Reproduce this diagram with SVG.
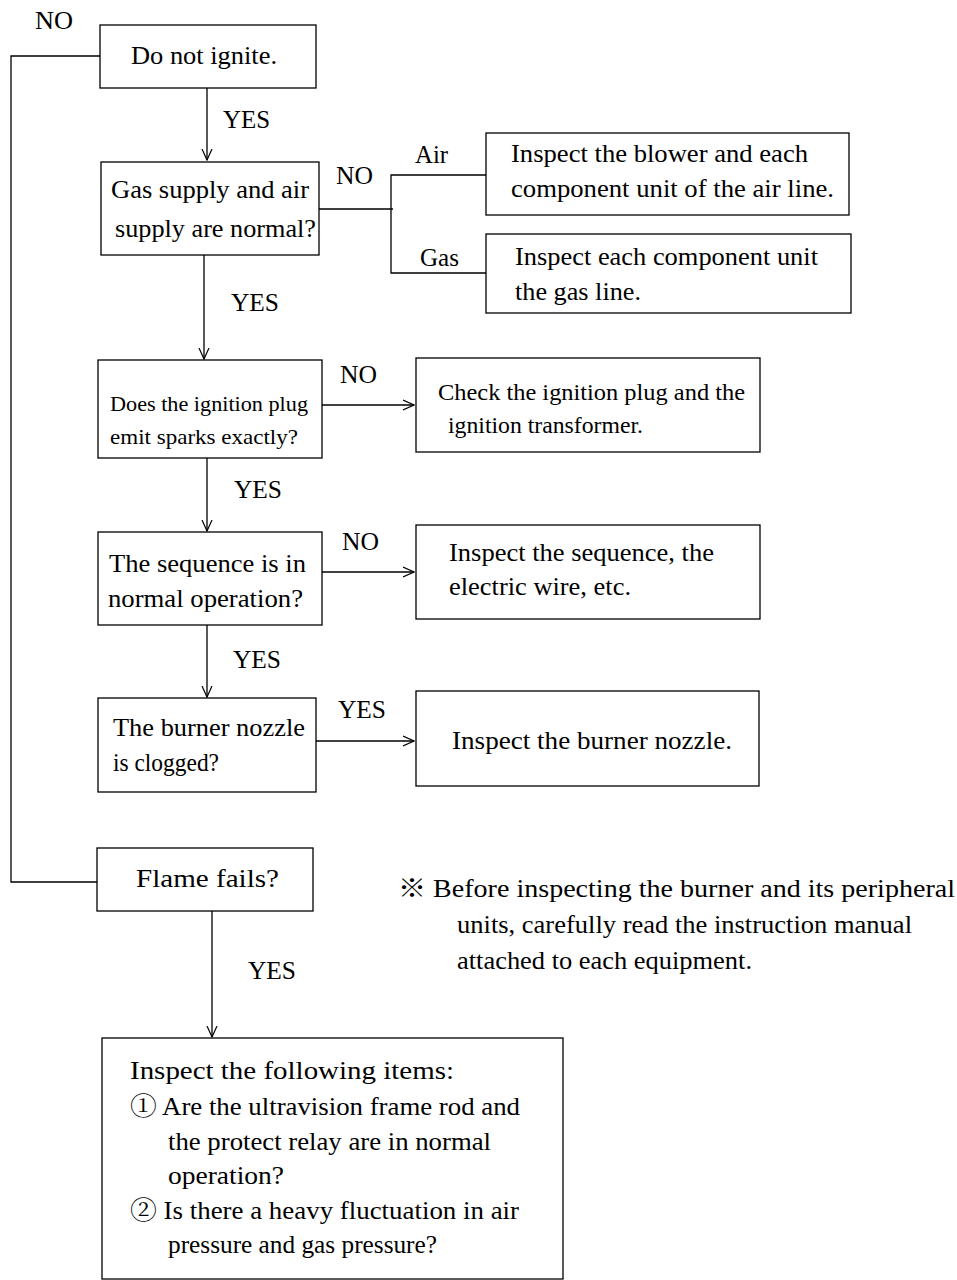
<svg xmlns="http://www.w3.org/2000/svg" width="957" height="1280" viewBox="0 0 957 1280">
<defs>
<style>
rect{fill:#fff;stroke:#000;stroke-width:1.3}
.c{fill:none;stroke:#000;stroke-width:1.3}
text{font-family:"Liberation Serif","Noto Serif CJK JP","Noto Sans CJK JP",serif;font-size:25px;fill:#000}
.s{font-size:22px}
.m{font-size:23px}
</style>
<marker id="ah" viewBox="0 0 12 12" refX="11" refY="6" markerWidth="12" markerHeight="12" markerUnits="userSpaceOnUse" orient="auto">
<path d="M0,1 L11,6 L0,11" fill="none" stroke="#000" stroke-width="1.2"/>
</marker>
</defs>
<g id="connectors">
<polyline class="c" points="100,56 11,56 11,882 97,882"/>
<line class="c" x1="207" y1="88" x2="207" y2="160" marker-end="url(#ah)"/>
<line class="c" x1="319" y1="209" x2="393" y2="209"/>
<polyline class="c" points="486,175 391,175 391,273 486,273"/>
<line class="c" x1="204" y1="255" x2="204" y2="359" marker-end="url(#ah)"/>
<line class="c" x1="322" y1="405" x2="414" y2="405" marker-end="url(#ah)"/>
<line class="c" x1="207" y1="458" x2="207" y2="531" marker-end="url(#ah)"/>
<line class="c" x1="322" y1="572" x2="414" y2="572" marker-end="url(#ah)"/>
<line class="c" x1="207" y1="625" x2="207" y2="697" marker-end="url(#ah)"/>
<line class="c" x1="316" y1="741" x2="414" y2="741" marker-end="url(#ah)"/>
<line class="c" x1="212" y1="911" x2="212" y2="1037" marker-end="url(#ah)"/>
<text x="35" y="29" textLength="38" lengthAdjust="spacingAndGlyphs">NO</text>
<text x="223" y="128" textLength="47" lengthAdjust="spacingAndGlyphs">YES</text>
<text x="336" y="184" textLength="37" lengthAdjust="spacingAndGlyphs">NO</text>
<text x="415" y="163" textLength="33" lengthAdjust="spacingAndGlyphs">Air</text>
<text x="420" y="266" textLength="39" lengthAdjust="spacingAndGlyphs">Gas</text>
<text x="231" y="311" textLength="48" lengthAdjust="spacingAndGlyphs">YES</text>
<text x="340" y="383" textLength="37" lengthAdjust="spacingAndGlyphs">NO</text>
<text x="234" y="498" textLength="48" lengthAdjust="spacingAndGlyphs">YES</text>
<text x="342" y="550" textLength="37" lengthAdjust="spacingAndGlyphs">NO</text>
<text x="233" y="668" textLength="48" lengthAdjust="spacingAndGlyphs">YES</text>
<text x="338" y="718" textLength="48" lengthAdjust="spacingAndGlyphs">YES</text>
<text x="248" y="979" textLength="48" lengthAdjust="spacingAndGlyphs">YES</text>
</g>
<g id="n1"><rect x="100" y="25" width="216" height="63"/><text x="131" y="64" textLength="146" lengthAdjust="spacingAndGlyphs">Do not ignite.</text></g>
<g id="n2"><rect x="101" y="162" width="218" height="93"/><text x="111" y="198" textLength="198" lengthAdjust="spacingAndGlyphs">Gas supply and air</text><text x="115" y="237" textLength="201" lengthAdjust="spacingAndGlyphs">supply are normal?</text></g>
<g id="n_air"><rect x="486" y="133" width="363" height="82"/><text x="511" y="162" textLength="297" lengthAdjust="spacingAndGlyphs">Inspect the blower and each</text><text x="511" y="197" textLength="323" lengthAdjust="spacingAndGlyphs">component unit of the air line.</text></g>
<g id="n_gas"><rect x="486" y="234" width="365" height="79"/><text x="515" y="265" textLength="303" lengthAdjust="spacingAndGlyphs">Inspect each component unit</text><text x="515" y="300" textLength="126" lengthAdjust="spacingAndGlyphs">the gas line.</text></g>
<g id="n3"><rect x="98" y="360" width="224" height="98"/><text class="s" x="110" y="411" textLength="198" lengthAdjust="spacingAndGlyphs">Does the ignition plug</text><text class="s" x="110" y="444" textLength="188" lengthAdjust="spacingAndGlyphs">emit sparks exactly?</text></g>
<g id="n3r"><rect x="416" y="358" width="344" height="94"/><text class="m" x="438" y="400" textLength="307" lengthAdjust="spacingAndGlyphs">Check the ignition plug and the</text><text class="m" x="448" y="433" textLength="195" lengthAdjust="spacingAndGlyphs">ignition transformer.</text></g>
<g id="n4"><rect x="98" y="532" width="224" height="93"/><text x="109" y="572" textLength="197" lengthAdjust="spacingAndGlyphs">The sequence is in</text><text x="108" y="607" textLength="195" lengthAdjust="spacingAndGlyphs">normal operation?</text></g>
<g id="n4r"><rect x="416" y="525" width="344" height="94"/><text x="449" y="561" textLength="265" lengthAdjust="spacingAndGlyphs">Inspect the sequence, the</text><text x="449" y="595" textLength="182" lengthAdjust="spacingAndGlyphs">electric wire, etc.</text></g>
<g id="n5"><rect x="98" y="698" width="218" height="94"/><text x="113" y="736" textLength="192" lengthAdjust="spacingAndGlyphs">The burner nozzle</text><text x="113" y="771" textLength="106" lengthAdjust="spacingAndGlyphs">is clogged?</text></g>
<g id="n5r"><rect x="416" y="691" width="343" height="95"/><text x="452" y="749" textLength="280" lengthAdjust="spacingAndGlyphs">Inspect the burner nozzle.</text></g>
<g id="n6"><rect x="97" y="848" width="216" height="63"/><text x="136" y="887" textLength="143" lengthAdjust="spacingAndGlyphs">Flame fails?</text></g>
<g id="note"><text x="398" y="897" textLength="557" lengthAdjust="spacingAndGlyphs">※ Before inspecting the burner and its peripheral</text><text x="457" y="933" textLength="455" lengthAdjust="spacingAndGlyphs">units, carefully read the instruction manual</text><text x="457" y="969" textLength="295" lengthAdjust="spacingAndGlyphs">attached to each equipment.</text></g>
<g id="n7"><rect x="102" y="1038" width="461" height="241"/>
<text x="130" y="1079" textLength="324" lengthAdjust="spacingAndGlyphs">Inspect the following items:</text>
<text x="130" y="1115" textLength="390" lengthAdjust="spacingAndGlyphs">① Are the ultravision frame rod and</text>
<text x="168" y="1150" textLength="323" lengthAdjust="spacingAndGlyphs">the protect relay are in normal</text>
<text x="168" y="1184" textLength="116" lengthAdjust="spacingAndGlyphs">operation?</text>
<text x="130" y="1219" textLength="389" lengthAdjust="spacingAndGlyphs">② Is there a heavy fluctuation in air</text>
<text x="168" y="1253" textLength="269" lengthAdjust="spacingAndGlyphs">pressure and gas pressure?</text>
</g>
</svg>
